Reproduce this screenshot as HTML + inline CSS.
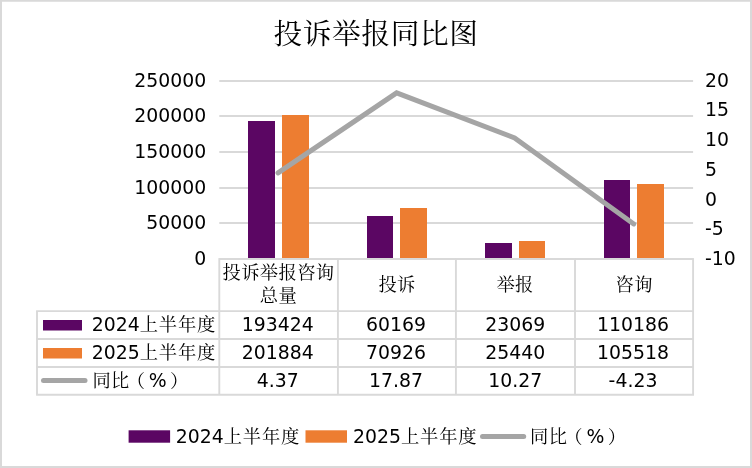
<!DOCTYPE html>
<html lang="zh-CN"><head><meta charset="utf-8"><title>投诉举报同比图</title>
<style>
html,body{margin:0;padding:0;background:#fff;}
body{width:752px;height:468px;overflow:hidden;}
svg{display:block;will-change:transform;}
.t text{font-family:"DejaVu Sans","Liberation Sans","Noto Serif CJK SC",sans-serif;font-size:18.85px;fill:#000;font-weight:400;}
.t .c{font-family:"Liberation Serif","Noto Serif CJK SC",serif;font-weight:400;font-size:18.3px;letter-spacing:0.37px;}
.t text.title{font-size:28.7px;font-weight:400;letter-spacing:0.63px;font-family:"Liberation Serif","Noto Serif CJK SC",serif;}
</style></head><body>
<svg width="752" height="468" viewBox="0 0 752 468">
<rect x="0" y="0" width="752" height="468" fill="#fff"/>
<rect x="1" y="0.75" width="750" height="466.25" fill="none" stroke="#D9D9D9" stroke-width="2"/>
<line x1="219.3" x2="693.1" y1="81.00" y2="81.00" stroke="#D9D9D9" stroke-width="2"/>
<line x1="219.3" x2="693.1" y1="116.00" y2="116.00" stroke="#D9D9D9" stroke-width="2"/>
<line x1="219.3" x2="693.1" y1="152.00" y2="152.00" stroke="#D9D9D9" stroke-width="2"/>
<line x1="219.3" x2="693.1" y1="188.00" y2="188.00" stroke="#D9D9D9" stroke-width="2"/>
<line x1="219.3" x2="693.1" y1="223.00" y2="223.00" stroke="#D9D9D9" stroke-width="2"/>
<rect x="248" y="121" width="27" height="137" fill="#5B0663"/>
<rect x="367" y="216" width="26" height="42" fill="#5B0663"/>
<rect x="485" y="243" width="27" height="15" fill="#5B0663"/>
<rect x="604" y="180" width="26" height="78" fill="#5B0663"/>
<rect x="282" y="115" width="27" height="143" fill="#ED7D31"/>
<rect x="400" y="208" width="27" height="50" fill="#ED7D31"/>
<rect x="519" y="241" width="26" height="17" fill="#ED7D31"/>
<rect x="637" y="184" width="27" height="74" fill="#ED7D31"/>
<g stroke="#D9D9D9" stroke-width="1.9" fill="none">
<line x1="219.3" x2="693.1" y1="259.0" y2="259.0"/>
<line x1="36.1" x2="694.0" y1="311.1" y2="311.1"/>
<line x1="36.1" x2="694.0" y1="339.0" y2="339.0"/>
<line x1="36.1" x2="694.0" y1="367.0" y2="367.0"/>
<line x1="36.1" x2="694.0" y1="394.8" y2="394.8"/>
<line x1="219.3" x2="219.3" y1="258.1" y2="394.8"/>
<line x1="337.9" x2="337.9" y1="258.1" y2="394.8"/>
<line x1="455.9" x2="455.9" y1="258.1" y2="394.8"/>
<line x1="575.0" x2="575.0" y1="258.1" y2="394.8"/>
<line x1="693.1" x2="693.1" y1="258.1" y2="394.8"/>
<line x1="37" x2="37" y1="311.1" y2="394.8"/>
</g>
<polyline points="278.03,172.94 396.62,92.84 514.62,137.93 633.73,223.96" fill="none" stroke="#A5A5A5" stroke-width="5" stroke-linecap="round" stroke-linejoin="miter"/>
<g class="t">
<text class="title" x="376" y="43.5" text-anchor="middle">投诉举报同比图</text>
<text x="206.2" y="87.00" text-anchor="end">250000</text>
<text x="206.2" y="122.00" text-anchor="end">200000</text>
<text x="206.2" y="158.00" text-anchor="end">150000</text>
<text x="206.2" y="194.00" text-anchor="end">100000</text>
<text x="206.2" y="229.00" text-anchor="end">50000</text>
<text x="206.2" y="265.00" text-anchor="end">0</text>
<text x="705.0" y="87">20</text>
<text x="705.0" y="116">15</text>
<text x="705.0" y="146">10</text>
<text x="705.0" y="176">5</text>
<text x="705.0" y="205.7">0</text>
<text x="705.0" y="234.7">-5</text>
<text x="705.0" y="265">-10</text>
<text x="278.53" y="279.3" text-anchor="middle" class="c">投诉举报咨询</text>
<text x="278.53" y="302.2" text-anchor="middle" class="c">总量</text>
<text x="397.12" y="290.5" text-anchor="middle" class="c">投诉</text>
<text x="515.12" y="290.5" text-anchor="middle" class="c">举报</text>
<text x="634.23" y="290.5" text-anchor="middle" class="c">咨询</text>
<text x="277.80" y="331.0" text-anchor="middle">193424</text>
<text x="396.00" y="331.0" text-anchor="middle">60169</text>
<text x="515.30" y="331.0" text-anchor="middle">23069</text>
<text x="633.00" y="331.0" text-anchor="middle">110186</text>
<text x="277.80" y="359.0" text-anchor="middle">201884</text>
<text x="396.00" y="359.0" text-anchor="middle">70926</text>
<text x="515.30" y="359.0" text-anchor="middle">25440</text>
<text x="633.00" y="359.0" text-anchor="middle">105518</text>
<text x="277.80" y="387.0" text-anchor="middle">4.37</text>
<text x="396.00" y="387.0" text-anchor="middle">17.87</text>
<text x="515.30" y="387.0" text-anchor="middle">10.27</text>
<text x="633.00" y="387.0" text-anchor="middle">-4.23</text>
<rect x="43" y="320" width="39" height="10.5" fill="#5B0663"/>
<rect x="43" y="348" width="39" height="10.5" fill="#ED7D31"/>
<line x1="43.5" x2="85" y1="380.6" y2="380.6" stroke="#A5A5A5" stroke-width="5" stroke-linecap="round"/>
<text x="91.8" y="331.0">2024<tspan class="c" style="letter-spacing:0.82px">上半年度</tspan></text>
<text x="91.8" y="359.0">2025<tspan class="c" style="letter-spacing:0.82px">上半年度</tspan></text>
<text y="387.0"><tspan class="c" x="92.4">同比</tspan><tspan class="c" x="126.70">（</tspan><tspan x="148.80">%</tspan><tspan class="c" x="170.10">）</tspan></text>
<rect x="128.6" y="430.3" width="41.5" height="12.4" fill="#5B0663"/>
<rect x="305.5" y="430.3" width="41.5" height="12.4" fill="#ED7D31"/>
<line x1="482.5" x2="523.7" y1="436.4" y2="436.4" stroke="#A5A5A5" stroke-width="5" stroke-linecap="round"/>
<text x="175.8" y="443.2">2024<tspan class="c" style="letter-spacing:0.82px">上半年度</tspan></text>
<text x="353" y="443.2">2025<tspan class="c" style="letter-spacing:0.82px">上半年度</tspan></text>
<text y="443.2"><tspan class="c" x="530.0">同比</tspan><tspan class="c" x="564.30">（</tspan><tspan x="586.40">%</tspan><tspan class="c" x="607.70">）</tspan></text>
</g></svg>
</body></html>
